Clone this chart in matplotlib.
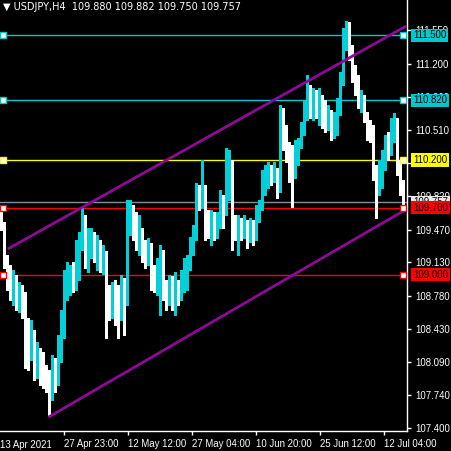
import matplotlib
matplotlib.use("Agg")
import matplotlib.pyplot as plt
import matplotlib.transforms as mtransforms
import numpy as np

# ---------------- data ----------------
symbol_title = "\u25BC USDJPY,H4  109.880 109.882 109.750 109.757"
first_open = 109.68
closes = [109.52, 109.13, 109.03, 108.84, 108.95, 108.74, 108.82, 108.74, 108.27, 108.16,
          108.37, 108.09, 108.22, 108.01, 107.95, 107.85, 107.75, 107.95, 107.90, 108.16,
          108.37, 108.84, 108.95, 109.03, 108.89, 109.21, 109.31, 109.59, 109.26, 109.36,
          109.41, 109.26, 109.31, 109.13, 109.21, 108.74, 108.68, 108.84, 108.74, 108.68,
          108.84, 108.74, 109.52, 109.62, 109.52, 109.42, 109.47, 109.26, 109.21, 109.31,
          109.00, 108.89, 109.05, 109.10, 108.84, 108.79, 108.89, 108.74, 108.84, 108.79,
          108.89, 109.00, 109.10, 109.26, 109.36, 109.83, 109.78, 109.94, 109.62, 109.52,
          109.59, 109.47, 109.55, 109.73, 109.62, 110.09, 110.20, 109.52, 109.49, 109.55,
          109.45, 109.52, 109.36, 109.49, 109.42, 109.62, 109.73, 109.94, 109.99, 110.09,
          110.04, 110.11, 109.88, 110.67, 110.53, 110.30, 110.20, 110.15, 110.30, 110.35,
          110.51, 110.67, 110.88, 110.82, 110.91, 110.77, 110.85, 110.72, 110.62, 110.70,
          110.53, 110.62, 110.72, 111.03, 111.45, 111.61, 111.40, 111.14, 110.98, 110.82,
          110.85, 110.67, 110.53, 110.46, 110.15, 109.88, 110.04, 110.15, 110.35, 110.30,
          110.51, 110.62, 110.20, 109.94, 109.757]
highs = [109.73, 109.55, 109.21, 109.10, 109.05, 109.00, 108.92, 108.89, 108.82, 108.55,
         108.53, 108.42, 108.30, 108.24, 108.19, 108.06, 108.01, 108.16, 108.13, 108.37,
         108.63, 109.05, 109.13, 109.10, 109.13, 109.36, 109.45, 109.70, 109.62, 109.49,
         109.49, 109.45, 109.41, 109.36, 109.31, 109.25, 108.89, 108.92, 108.95, 108.89,
         109.00, 108.97, 109.78, 109.78, 109.73, 109.66, 109.62, 109.49, 109.36, 109.38,
         109.33, 109.10, 109.17, 109.31, 109.26, 108.95, 109.00, 108.99, 109.03, 108.95,
         109.05, 109.17, 109.21, 109.39, 109.52, 109.96, 109.94, 110.20, 109.94, 109.68,
         109.68, 109.66, 109.66, 109.88, 109.83, 110.32, 110.30, 110.20, 109.62, 109.62,
         109.59, 109.62, 109.57, 109.59, 109.57, 109.73, 109.78, 110.09, 110.15, 110.18,
         110.15, 110.18, 110.11, 110.77, 110.74, 110.56, 110.39, 110.35, 110.41, 110.43,
         110.59, 110.82, 111.09, 110.98, 110.95, 110.93, 110.95, 110.88, 110.82, 110.77,
         110.72, 110.70, 110.85, 111.12, 111.58, 111.65, 111.64, 111.40, 111.19, 111.09,
         110.93, 110.88, 110.70, 110.62, 110.56, 110.15, 110.20, 110.30, 110.46, 110.49,
         110.64, 110.69, 110.64, 110.20, 109.99]
lows = [109.47, 109.07, 108.84, 108.74, 108.68, 108.63, 108.61, 108.55, 108.03, 108.01,
        108.11, 107.90, 107.92, 107.85, 107.82, 107.78, 107.54, 107.69, 107.78, 107.85,
        108.09, 108.34, 108.74, 108.79, 108.82, 108.84, 108.95, 109.26, 109.07, 109.03,
        109.17, 109.13, 109.05, 109.03, 109.01, 108.34, 108.53, 108.55, 108.48, 108.34,
        108.53, 108.37, 108.68, 109.42, 109.36, 109.26, 109.21, 109.13, 109.07, 109.10,
        108.84, 108.82, 108.79, 108.58, 108.74, 108.63, 108.68, 108.63, 108.58, 108.68,
        108.74, 108.82, 108.84, 109.05, 109.21, 109.36, 109.68, 109.70, 109.36, 109.38,
        109.31, 109.36, 109.38, 109.49, 109.49, 109.62, 109.78, 109.26, 109.36, 109.21,
        109.36, 109.38, 109.28, 109.34, 109.31, 109.36, 109.55, 109.68, 109.83, 109.91,
        109.94, 109.97, 109.80, 109.86, 110.30, 110.18, 109.97, 109.71, 110.01, 110.15,
        110.32, 110.46, 110.62, 110.64, 110.62, 110.64, 110.56, 110.53, 110.49, 110.51,
        110.41, 110.43, 110.46, 110.67, 110.98, 111.35, 111.24, 111.01, 110.88, 110.74,
        110.70, 110.59, 110.41, 110.39, 109.99, 109.59, 109.83, 109.91, 110.09, 110.20,
        110.25, 110.39, 110.04, 109.83, 109.73]

y_ticks = [107.400, 107.740, 108.090, 108.430, 108.780, 109.130, 109.470,
           109.820, 110.170, 110.510, 110.860, 111.200, 111.550]
x_tick_idx = [20.8, 42.2, 63.5, 84.8, 106.2, 127.5]
x_tick_labels = ["27 Apr 23:00", "12 May 12:00", "27 May 04:00",
                 "10 Jun 20:00", "25 Jun 12:00", "12 Jul 04:00"]
first_date_label = "13 Apr 2021"

levels = [111.500, 110.820, 110.200, 109.700, 109.000]
level_colors = ["#00c8d0", "#00c8d0", "#ffff00", "#ff0000", "#ff0000"]
bid_price = 109.757

channel_upper_idx = [2.5, 134.5]
channel_upper_price = [109.276, 111.589]
channel_lower_idx = [16.0, 134.5]
channel_lower_price = [107.52, 109.676]

# ---------------- figure ----------------
W, H = 452, 451
fig = plt.figure(figsize=(W / 100, H / 100), dpi=100, facecolor="black")
ax = fig.add_axes([0, 20 / H, 407 / W, 431 / H], facecolor="black")

n = len(closes)
idx = np.arange(n)
opens = np.array([first_open] + closes[:-1])
c = np.array(closes)
h = np.maximum(np.array(highs), np.maximum(opens, c))
l = np.minimum(np.array(lows), np.minimum(opens, c))
bull = c >= opens
bull_col = "#00d0d8"
bear_col = "#ffffff"
cols = np.where(bull, bull_col, bear_col)

ax.vlines(idx, l, h, colors=cols, linewidth=0.9, zorder=3, antialiased=False)
body_bottom = np.minimum(opens, c)
body_h = np.maximum(np.abs(c - opens), 0.012)
ax.bar(idx, body_h, bottom=body_bottom, width=0.34, color=cols, linewidth=0,
       zorder=3, antialiased=False)

# horizontal levels
bt = mtransforms.blended_transform_factory(ax.transAxes, ax.transData)
for lv, col in zip(levels, level_colors):
    ax.axhline(lv, color=col, linewidth=1.0, zorder=2)
    ax.plot([3 / 407, 403 / 407], [lv, lv], linestyle="none", marker="s",
            markersize=4.5, markerfacecolor="white", markeredgecolor=col,
            markeredgewidth=1.0, transform=bt, zorder=6, clip_on=False)
ax.axhline(bid_price, color="#8090a0", linewidth=1.0, zorder=2)

# channel
ax.plot(channel_upper_idx, channel_upper_price, color="#8e0a96", linewidth=2.0, zorder=4)
ax.plot(channel_lower_idx, channel_lower_price, color="#8e0a96", linewidth=2.0, zorder=4)

# axes limits
ax.set_xlim(-0.5, 135.17)
ax.set_ylim(107.369, 111.868)

for s in ["left", "top"]:
    ax.spines[s].set_visible(False)
for s in ["right", "bottom"]:
    ax.spines[s].set_color("white")
    ax.spines[s].set_linewidth(1.0)

lab_font = {"family": "Liberation Sans", "size": 6.9}
ax.yaxis.tick_right()
ax.set_yticks(y_ticks)
ax.set_yticklabels([f"{v:.3f}" for v in y_ticks], color="white", fontdict=lab_font)
ax.tick_params(axis="y", colors="white", length=3, width=1, pad=3, direction="out")

ax.set_xticks(x_tick_idx)
ax.set_xticklabels(x_tick_labels, color="white", fontdict=lab_font, ha="left")
ax.tick_params(axis="x", colors="white", length=3, width=1, pad=3, direction="out")
ax.text(0.0, -14 / 431, first_date_label, transform=ax.transAxes, color="white",
        ha="left", va="center", fontdict=lab_font)

# price label boxes
box_x = 1 + 6 / 407
ax.text(box_x, bid_price, f"{bid_price:.3f}", transform=bt, ha="left", va="center",
        color="black", fontdict=lab_font, zorder=10, clip_on=False,
        bbox=dict(boxstyle="square,pad=0.18", fc="#e8e8e8", ec="none"))
for lv, col in zip(levels, level_colors):
    ax.text(box_x, lv, f"{lv:.3f}", transform=bt, ha="left", va="center",
            color="black", fontdict=lab_font, zorder=11, clip_on=False,
            bbox=dict(boxstyle="square,pad=0.18", fc=col, ec="none"))

# title
fig.text(3 / W, 1 - 7 / H, symbol_title, color="white", ha="left", va="center",
         fontsize=7.0, family=["DejaVu Sans"])

fig.savefig("out.png", dpi=100, facecolor="black")
